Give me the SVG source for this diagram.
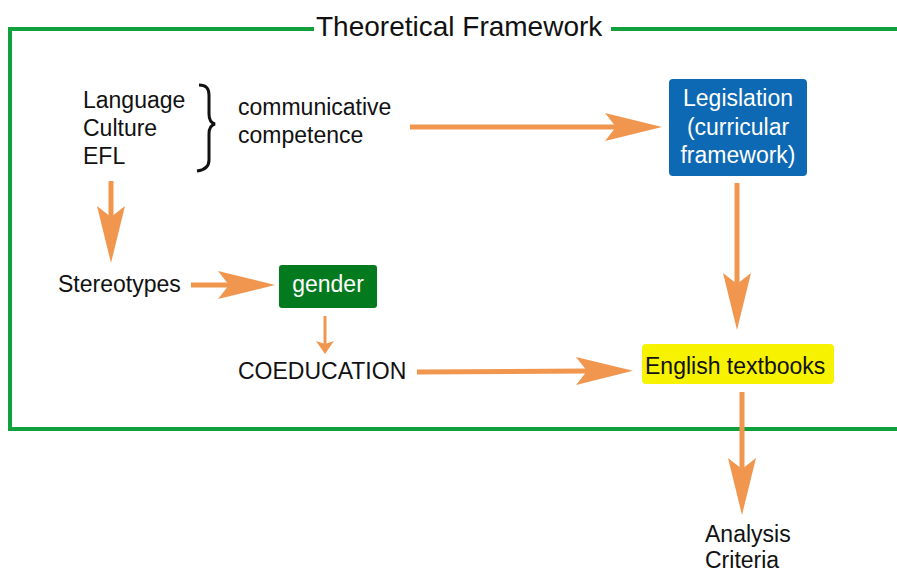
<svg xmlns="http://www.w3.org/2000/svg" width="897" height="569" viewBox="0 0 897 569">
<style>
text{font-family:"Liberation Sans",Arial,sans-serif;font-size:23px;fill:#111}
.w{fill:#fff}
.c{text-anchor:middle}
.frame{fill:none;stroke:#12A03C;stroke-width:4}
.conn{stroke:#F0964F;stroke-width:5;fill:none}
.thin{stroke:#F0964F;stroke-width:3;fill:none}
</style>
<defs>
<marker id="big" markerUnits="userSpaceOnUse" markerWidth="60" markerHeight="30" refX="11" refY="14" orient="auto" overflow="visible">
<path d="M0,0 L57,14 L0,28 L11,14 z" fill="#F0964F"/>
</marker>
<marker id="small" markerUnits="userSpaceOnUse" markerWidth="16" markerHeight="20" refX="3" refY="9" orient="auto" overflow="visible">
<path d="M0,0 L13,9 L0,18 L3,9 z" fill="#F0964F"/>
</marker>
</defs>
<g id="frame">
<path class="frame" d="M314,29 L10,29 L10,429 L897,429 M611,29 L897,29"/>
<text x="316" y="36" style="font-size:28px">Theoretical Framework</text>
</g>
<g id="connectors">
<line class="conn" x1="410" y1="127" x2="616" y2="127" marker-end="url(#big)"/>
<line class="conn" x1="737" y1="183" x2="737" y2="284" marker-end="url(#big)"/>
<line class="conn" x1="111" y1="181" x2="111" y2="217" marker-end="url(#big)"/>
<line class="conn" x1="191" y1="285" x2="229" y2="285" marker-end="url(#big)"/>
<line class="thin" x1="325" y1="316" x2="325" y2="344" marker-end="url(#small)"/>
<line class="conn" x1="417" y1="372" x2="587" y2="371" marker-end="url(#big)"/>
<line class="conn" x1="742" y1="392" x2="742" y2="469" marker-end="url(#big)"/>
</g>
<g id="sources">
<text x="83" y="108">Language</text>
<text x="83" y="136">Culture</text>
<text x="83" y="164">EFL</text>
<path d="M199,85 C206,85 209,88 209,95 L209,114 C209,120 211,123 215,124 C211,125 209,128 209,134 L209,160 C209,167 205,170 197,171" fill="none" stroke="#111" stroke-width="3"/>
</g>
<g id="competence">
<text x="238" y="115">communicative</text>
<text x="238" y="143">competence</text>
</g>
<g id="legislation">
<rect x="669" y="79" width="138" height="97" rx="4" fill="#0D69B3"/>
<text class="w c" x="738" y="106">Legislation</text>
<text class="w c" x="738" y="135">(curricular</text>
<text class="w c" x="738" y="163">framework)</text>
</g>
<g id="stereotypes">
<text x="58" y="292">Stereotypes</text>
</g>
<g id="gender">
<rect x="279" y="265" width="98" height="43" rx="3" fill="#047A1F"/>
<text class="w c" x="328" y="292">gender</text>
</g>
<g id="coeducation">
<text x="238" y="379">COEDUCATION</text>
</g>
<g id="textbooks">
<rect x="642" y="344" width="192" height="40" rx="4" fill="#F7F300"/>
<text x="645" y="374">English textbooks</text>
</g>
<g id="analysis">
<text x="705" y="542">Analysis</text>
<text x="705" y="568">Criteria</text>
</g>
</svg>
